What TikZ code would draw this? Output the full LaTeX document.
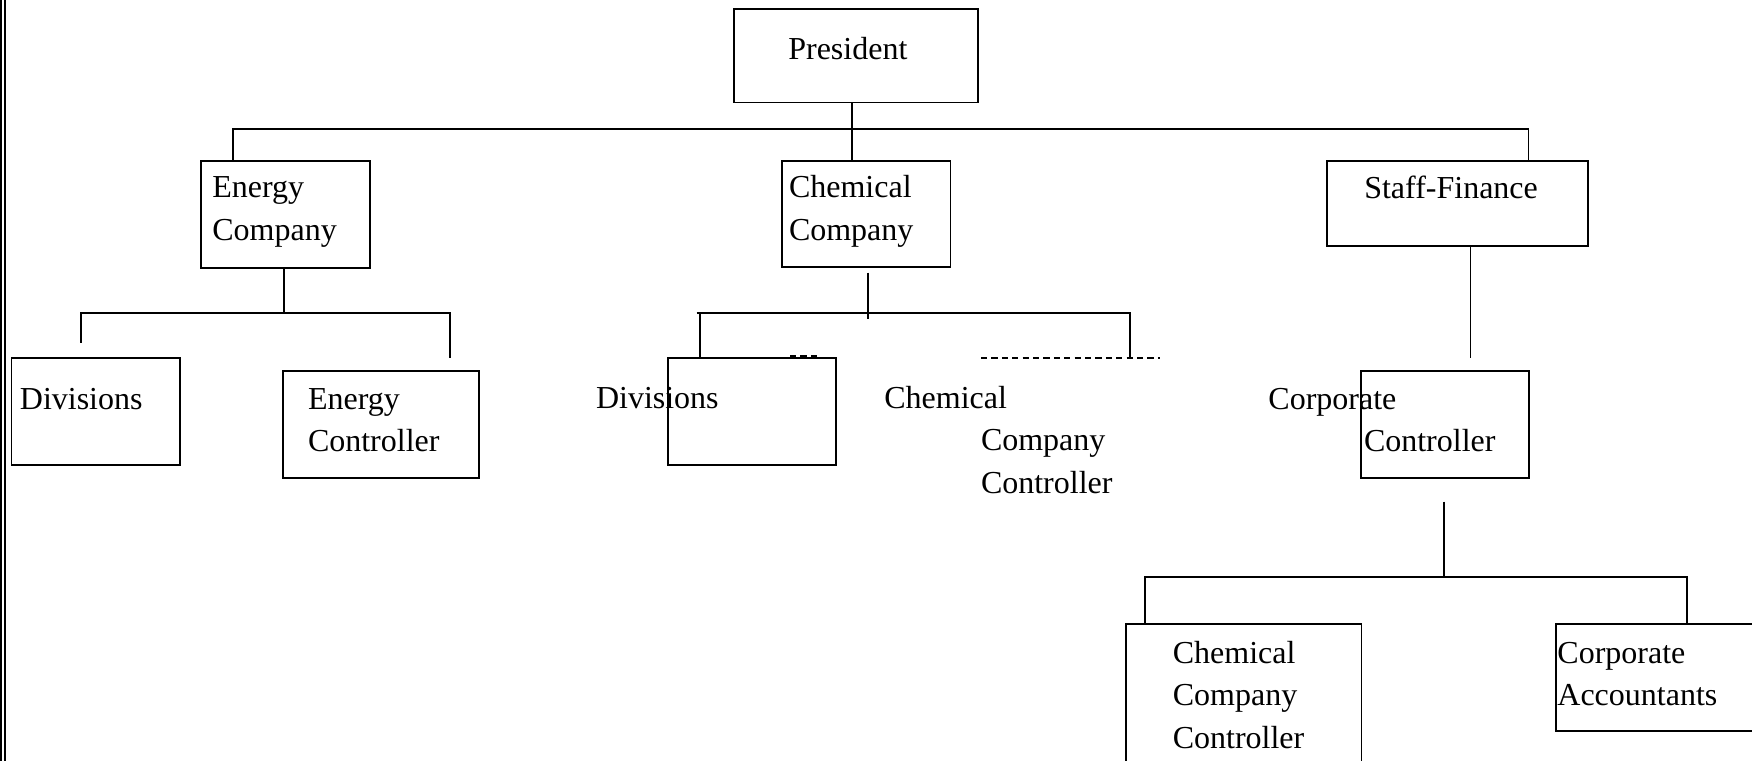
\documentclass[tikz,border=0pt]{standalone}
\usepackage{fontspec}
\setmainfont{Liberation Serif}
\usetikzlibrary{fit}
\tikzset{
  box/.style={draw, rectangle, inner sep=0pt, outer sep=0pt, line width=0.7pt},
  lbl/.style={inner sep=0pt, outer sep=0pt, anchor=base west, align=left,
              font=\fontsize{12}{15.9}\selectfont},
  conn/.style={line width=0.7pt},
  dashconn/.style={line width=0.75pt, dash pattern=on 2.3pt off 1.6pt},
  edgebar/.style={line width=0.7pt}
}
\begin{document}
\begin{tikzpicture}[x=0.375pt,y=-0.375pt]
\useasboundingbox (0,0) rectangle (1752,761);
\clip (0,0) rectangle (1752,761);
% left double bar
\coordinate (lb1t) at (1,0);  \coordinate (lb1b) at (1,761);
\coordinate (lb2t) at (4.8,0);  \coordinate (lb2b) at (4.8,761);
\draw[edgebar] (lb1t) -- (lb1b);
\draw[edgebar] (lb2t) -- (lb2b);
% boxes
\node[box, fit={(734.3,9) (977.7,102.5)}] (pres) {};
\node[box, fit={(201,160.7) (369.7,267.7)}] (energy) {};
\node[box, fit={(782,161) (950.5,267.3)}] (chem) {};
\node[box, fit={(1326.6,161) (1587.7,246)}] (staff) {};
\node[box, fit={(11.5,357.7) (180.2,464.7)}] (div1) {};
\node[box, fit={(283.2,370.7) (478.8,478.3)}] (ectrl) {};
\node[box, fit={(667.6,357.7) (835.6,465)}] (div2) {};
\node[box, fit={(1360.7,371.3) (1529,478.3)}] (cctrl) {};
\node[box, fit={(1126.2,624) (1361.5,800)}] (ccc) {};
\node[box, fit={(1555.7,624) (1800,731)}] (acct) {};
% texts (anchor = baseline of the last line)
\node[lbl] (tpres) at (788.3,59.5) {President};
\node[lbl] (tenergy) at (212.4,240) {Energy\\Company};
\node[lbl] (tchem) at (789,240) {Chemical\\Company};
\node[lbl] (tstaff) at (1364.3,198.5) {Staff-Finance};
\node[lbl] (tdiv1) at (19.9,409) {Divisions};
\node[lbl] (tectrl) at (308,451.5) {Energy\\Controller};
\node[lbl] (tdiv2) at (596,408.5) {Divisions};
\node[lbl] (tchemA) at (884.3,408.5) {Chemical};
\node[lbl] (tchemB) at (981,493) {Company\\Controller};
\node[lbl] (tcorpA) at (1268.4,409.5) {Corporate};
\node[lbl] (tcorpB) at (1364,451.5) {Controller};
\node[lbl] (tccc) at (1172.8,748) {Chemical\\Company\\Controller};
\node[lbl] (tacct) at (1557.4,705.5) {Corporate\\Accountants};
% top tree
\draw[conn] (852,0 |- pres.south) -- (852,0 |- chem.north);
\draw[conn] (232.7,0 |- energy.north) |- (1528.5,128.7) -- (1528.5,0 |- staff.north);
% energy subtree
\coordinate (eL) at (80.8,342.7);
\coordinate (eR) at (449.7,358.3);
\coordinate (eJ) at (283.6,313);
\draw[conn] (283.6,0 |- energy.south) -- (eJ);
\draw[conn] (eL) |- (eR |- eJ) -- (eR);
% chemical subtree
\coordinate (cT) at (867.8,272.7);
\coordinate (cB) at (867.8,319);
\coordinate (cHL) at (696.7,312.7);
\coordinate (cHR) at (1130,312.7);
\coordinate (cR) at (1130,357.7);
\draw[conn] (cT) -- (cB);
\draw[conn] (cHL) -- (cHR) -- (cR);
\draw[conn] (699.8,312.7) -- (699.8,0 |- div2.north);
\coordinate (dA) at (790,355.5);
\coordinate (dB) at (820,355.5);
\draw[dashconn] (dA) -- (dB);
\coordinate (dC) at (981,358.3);
\coordinate (dD) at (1160,358.3);
\draw[dashconn] (dC) -- (dD);
% staff subtree
\coordinate (sB) at (1470.5,358.3);
\draw[conn] (1470.5,0 |- staff.south) -- (sB);
\coordinate (kT) at (1443.9,501.7);
\coordinate (kJ) at (1443.9,576.7);
\draw[conn] (kT) -- (kJ);
\draw[conn] (1144.9,0 |- ccc.north) |- (1686.7,576.7) -- (1686.7,0 |- acct.north);
\end{tikzpicture}
\end{document}
